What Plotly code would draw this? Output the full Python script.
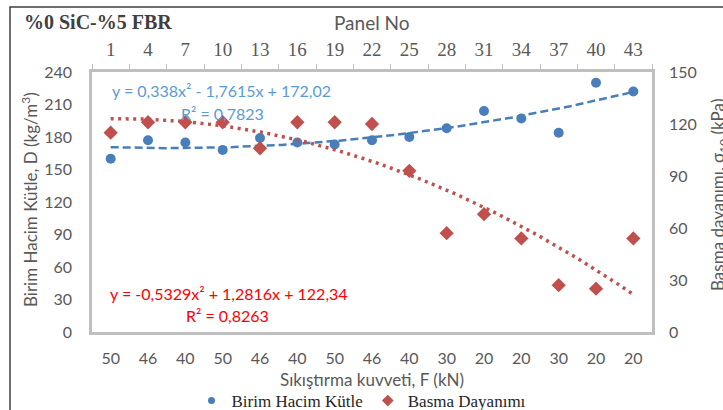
import numpy as np
import plotly.graph_objects as go

# ---- data ----
panel_no = ["1", "4", "7", "10", "13", "16", "19", "22", "25", "28", "31", "34", "37", "40", "43"]
force_kn = ["50", "46", "40", "50", "46", "40", "50", "46", "40", "30", "20", "20", "30", "20", "20"]
density = [160, 177, 175, 168, 179, 175, 173, 177, 180, 188, 204, 197, 184, 230, 222]
strength = [115, 121, 121, 121, 106, 121, 121, 120, 93, 57, 68, 54, 27, 25, 54]
# trendline coefficients as displayed (a, b, c for a*x^2 + b*x + c, x = 1..n)
density_fit = [0.338, -1.7615, 172.02]
density_r2 = "0,7823"
strength_fit = [-0.5329, 1.2816, 122.34]
strength_r2 = "0,8263"
left_ticks = [0, 30, 60, 90, 120, 150, 180, 210, 240]
right_ticks = [0, 30, 60, 90, 120, 150]

BLUE = "#4a7ebb"
RED = "#c0504d"
TICK = "#595959"
SANS = "Lato, 'Open Sans', sans-serif"
SERIF = "'Liberation Serif', 'DejaVu Serif', serif"

n = len(panel_no)
pos = list(range(n))
xs = np.linspace(0, n - 1, 200)
xe = xs + 1
dens_trend = density_fit[0] * xe**2 + density_fit[1] * xe + density_fit[2]
str_trend = strength_fit[0] * xe**2 + strength_fit[1] * xe + strength_fit[2]

fig = go.Figure()
fig.add_trace(go.Scatter(x=xs, y=dens_trend, mode="lines", xaxis="x", yaxis="y",
                         line=dict(color=BLUE, width=2.5, dash="8px,4px"),
                         showlegend=False, hoverinfo="skip"))
fig.add_trace(go.Scatter(x=xs, y=str_trend, mode="lines", xaxis="x", yaxis="y2",
                         line=dict(color=RED, width=3.5, dash="3px,4.5px"),
                         showlegend=False, hoverinfo="skip"))
fig.add_trace(go.Scatter(x=pos, y=density, mode="markers", xaxis="x", yaxis="y",
                         marker=dict(color=BLUE, size=10, symbol="circle"),
                         showlegend=False, name="Birim Hacim Kütle"))
fig.add_trace(go.Scatter(x=pos, y=strength, mode="markers", xaxis="x", yaxis="y2",
                         marker=dict(color=RED, size=11, symbol="diamond"),
                         showlegend=False, name="Basma Dayanımı"))
# trace to activate the top axis
fig.add_trace(go.Scatter(x=pos, y=[None] * n, mode="markers", xaxis="x2", yaxis="y",
                         showlegend=False, hoverinfo="skip"))
# legend entries
fig.add_trace(go.Scatter(x=[None], y=[None], mode="markers", name="Birim Hacim Kütle",
                         marker=dict(color=BLUE, size=7, symbol="circle")))
fig.add_trace(go.Scatter(x=[None], y=[None], mode="markers", name="Basma Dayanımı",
                         marker=dict(color=RED, size=9, symbol="diamond"), yaxis="y2"))

L, R, T, B = 92, 71, 72, 78
W, H = 723, 410
pw, ph = W - L - R, H - T - B


def px(x):
    return (x - L) / pw


def py(y):
    return (H - B - y) / ph


fig.update_layout(
    width=W, height=H,
    margin=dict(l=L, r=R, t=T, b=B, autoexpand=False),
    paper_bgcolor="white", plot_bgcolor="white",
    showlegend=True,
    legend=dict(orientation="h", x=0.5, xanchor="center", xref="container",
                y=(H - 401) / H, yanchor="middle", yref="container",
                font=dict(family=SERIF, size=17, color="#262626"),
                itemwidth=30, tracegroupgap=0, bgcolor="rgba(0,0,0,0)"),
    xaxis=dict(range=[-0.5, n - 0.5], tickmode="array", tickvals=pos, ticktext=force_kn,
               showgrid=False, zeroline=False, ticks="", showline=True,
               linecolor="#bfbfbf", linewidth=2.5, mirror=True, automargin=False,
               tickfont=dict(family=SANS, size=16, color=TICK), ticklabelstandoff=10),
    xaxis2=dict(range=[-0.5, n - 0.5], overlaying="x", side="top", anchor="y",
                tickmode="array", tickvals=pos, ticktext=panel_no,
                showgrid=False, zeroline=False, ticks="", showline=True,
                linecolor="#bfbfbf", linewidth=2.5, automargin=False,
                minor=dict(tickmode="linear", tick0=-0.5, dtick=1, ticks="outside",
                           ticklen=5, tickcolor="#bfbfbf", tickwidth=1.3, showgrid=False),
                tickfont=dict(family=SERIF, size=19, color=TICK), ticklabelstandoff=6),
    yaxis=dict(range=[0, 240], tickmode="array", tickvals=left_ticks,
               showgrid=False, zeroline=False, ticks="", showline=True,
               linecolor="#bfbfbf", linewidth=2.5, mirror=True, automargin=False,
               tickfont=dict(family=SANS, size=16, color=TICK), ticklabelstandoff=14),
    yaxis2=dict(range=[0, 150], tickmode="array", tickvals=right_ticks, overlaying="y",
                side="right", anchor="x", showgrid=False, zeroline=False, ticks="",
                showline=False, automargin=False,
                tickfont=dict(family=SANS, size=16, color=TICK), ticklabelstandoff=16),
)


def fmt(v):
    return f"{abs(v)}".replace(".", ",")


def eq_text(c):
    a, b, k = c
    s = "y = " + ("-" if a < 0 else "") + fmt(a) + "x²"
    s += (" - " if b < 0 else " + ") + fmt(b) + "x"
    s += (" - " if k < 0 else " + ") + fmt(k)
    return s


ann = []
ann.append(dict(text="<b>%0 SiC-%5 FBR</b>", x=px(22), y=py(22), xanchor="left", yanchor="middle",
                font=dict(family=SERIF, size=20, color="#404040"), showarrow=False,
                xref="paper", yref="paper"))
ann.append(dict(text="Panel No", x=px(372), y=py(22), xanchor="center", yanchor="middle",
                font=dict(family=SANS, size=19, color=TICK), showarrow=False,
                xref="paper", yref="paper"))
ann.append(dict(text="Sıkıştırma kuvveti, F (kN)", x=px(372), y=py(379), xanchor="center",
                yanchor="middle", font=dict(family=SANS, size=17, color=TICK),
                showarrow=False, xref="paper", yref="paper"))
ann.append(dict(text="Birim Hacim Kütle, D (kg/m<sup>3</sup>)", x=px(29), y=py(200),
                xanchor="center", yanchor="middle", textangle=-90,
                font=dict(family=SANS, size=17, color=TICK), showarrow=False,
                xref="paper", yref="paper"))
ann.append(dict(text="Basma dayanımı, σ<sub>10</sub> (kPa)", x=px(719), y=py(195),
                xanchor="center", yanchor="middle", textangle=-90,
                font=dict(family=SANS, size=17, color=TICK), showarrow=False,
                xref="paper", yref="paper"))
ann.append(dict(text=eq_text(density_fit), x=px(221), y=py(90), xanchor="center",
                yanchor="middle", font=dict(family=SANS, size=16, color="#5b9bd5"),
                showarrow=False, xref="paper", yref="paper"))
ann.append(dict(text="R² = " + density_r2, x=px(222), y=py(113), xanchor="center",
                yanchor="middle", font=dict(family=SANS, size=16, color="#5b9bd5"),
                showarrow=False, xref="paper", yref="paper"))
ann.append(dict(text=eq_text(strength_fit), x=px(229), y=py(293), xanchor="center",
                yanchor="middle", font=dict(family=SANS, size=16, color="#ff0000"),
                showarrow=False, xref="paper", yref="paper"))
ann.append(dict(text="R² = " + strength_r2, x=px(227), y=py(315), xanchor="center",
                yanchor="middle", font=dict(family=SANS, size=16, color="#ff0000"),
                showarrow=False, xref="paper", yref="paper"))
fig.update_layout(annotations=ann)

# outer chart border (left and top edges visible)
fig.add_shape(type="rect", xref="paper", yref="paper", x0=px(10), x1=px(740),
              y0=py(430), y1=py(7), line=dict(color="#404040", width=1.5), layer="above")

fig.write_html("out.html")
